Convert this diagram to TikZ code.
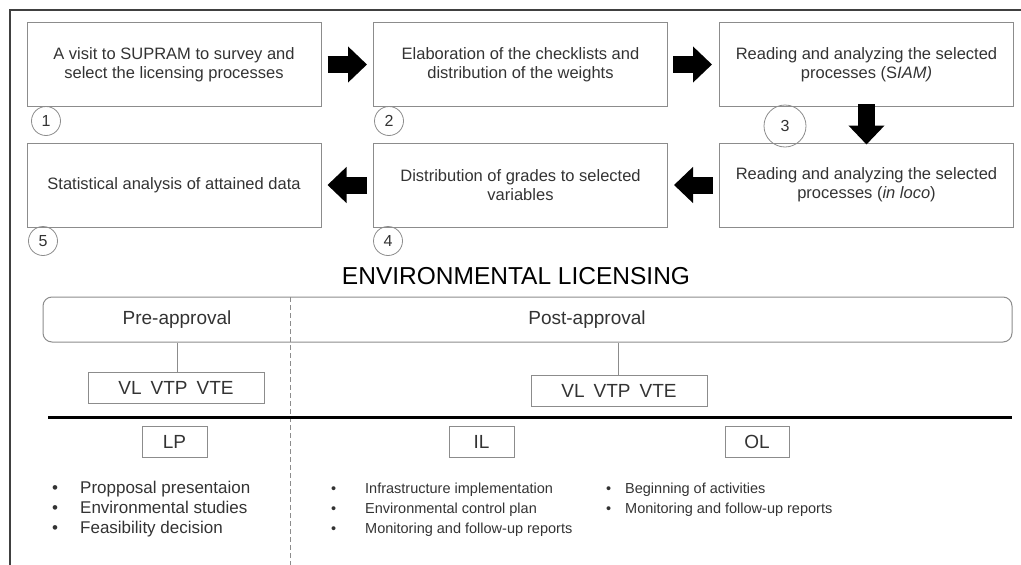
\documentclass[tikz,border=0pt]{standalone}
\usepackage{fontspec}
\setmainfont{Liberation Sans}
\usetikzlibrary{arrows.meta}
\definecolor{boxgray}{HTML}{8C8C8C}
\definecolor{txtgray}{HTML}{333333}
\definecolor{framegray}{HTML}{404040}
\tikzset{
  stepbox/.style={draw=boxgray, line width=1pt, minimum width=294pt, minimum height=84pt,
    inner sep=0pt, align=center, text=txtgray, font=\fontsize{16.5}{19}\selectfont},
  numcircle/.style={circle, draw=boxgray, line width=0.8pt, minimum size=29pt, inner sep=0pt,
    text=txtgray, font=\fontsize{16}{18}\selectfont},
  fatarrow/.style={line width=17pt, -{Triangle[length=19pt,width=35pt]}},
  tagbox/.style={draw=boxgray, line width=1pt, minimum height=31pt, inner sep=0pt,
    text=txtgray, font=\fontsize{19}{22}\selectfont},
  phase/.style={text=txtgray, font=\fontsize{19}{22}\selectfont},
  listline/.style={anchor=base west, inner sep=0pt, text=txtgray},
}
\begin{document}
\begin{tikzpicture}[x=1pt, y=-1pt]
\useasboundingbox (0,0) rectangle (1021,565);
% frame
\draw[framegray, line width=1.5pt] (10,565) -- (10,10) -- (1021,10);

% method steps
\node[stepbox] (b1) at (174,64.5) {A visit to SUPRAM to survey and\\select the licensing processes};
\node[stepbox] (b2) at (520.5,64.5) {Elaboration of the checklists and\\distribution of the weights};
\node[stepbox] (b3) at (866.5,64.5) {Reading and analyzing the selected\\processes (S\textit{IAM)}};
\node[stepbox] (b5) at (174,185) {Statistical analysis of attained data};
\node[stepbox] (b4) at (520.5,185) {Distribution of grades to selected\\variables};
\node[stepbox] (b6) at (866.5,185) {Reading and analyzing the selected\\processes (\textit{in loco})};

\node[numcircle] (c1) at (46,121) {1};
\node[numcircle] (c2) at (389,121) {2};
\node[numcircle, minimum size=42pt] (c3) at (785,126) {3};
\node[numcircle] (c4) at (388,241) {4};
\node[numcircle] (c5) at (43,241) {5};

\draw[fatarrow, shorten <=6pt, shorten >=6pt] (b1) -- (b2);
\draw[fatarrow, shorten <=5pt, shorten >=7pt] (b2) -- (b3);
\draw[fatarrow, shorten <=-3pt, shorten >=-2pt] (b3) -- (b6);
\draw[fatarrow, shorten <=6pt, shorten >=6pt] (b6) -- (b4);
\draw[fatarrow, shorten <=6pt, shorten >=6pt] (b4) -- (b5);

% licensing scheme
\node[text=black, font=\fontsize{24.5}{28}\selectfont] (title) at (516,276) {ENVIRONMENTAL LICENSING};
\node[draw=boxgray, line width=1pt, rounded corners=9pt, minimum width=969pt, minimum height=45pt,
  inner sep=0pt] (phases) at (527.5,319.5) {};
\node[phase] (pre) at (177,320) {Pre-approval};
\node[phase] (post) at (587,320) {Post-approval};
\draw[boxgray, line width=0.8pt, dash pattern=on 5pt off 3pt] (290,297) -- (290,565);

\node[tagbox, minimum width=176pt] (vlpre) at (176,387.5) {VL\hspace{9pt}VTP\hspace{9pt}VTE};
\node[tagbox, minimum width=176pt] (vlpost) at (619,390.5) {VL\hspace{9pt}VTP\hspace{9pt}VTE};
\draw[boxgray, line width=0.8pt] (vlpre.north -| pre) -- (phases.south -| pre);
\draw[boxgray, line width=0.8pt] (vlpost.north -| 618,0) -- (phases.south -| 618,0);

\draw[black, line width=3pt] (48,417) -- (1012,417);

\node[tagbox, minimum width=65pt] (lp) at (174.5,441.5) {LP};
\node[tagbox, minimum width=65pt] (il) at (481.5,441.5) {IL};
\node[tagbox, minimum width=64pt] (ol) at (757,442) {OL};

\foreach \t [count=\i] in {Propposal presentaion, Environmental studies, Feasibility decision}
  \node[listline, font=\fontsize{17}{20}\selectfont] (lp\i) at (52,473+20*\i) {\makebox[28pt][l]{\textbullet}\t};
\foreach \t [count=\i] in {Infrastructure implementation, Environmental control plan, Monitoring and follow-up reports}
  \node[listline, font=\fontsize{14.5}{20}\selectfont] (il\i) at (331,473+20*\i) {\makebox[34pt][l]{\textbullet}\t};
\foreach \t [count=\i] in {Beginning of activities, Monitoring and follow-up reports}
  \node[listline, font=\fontsize{14.5}{20}\selectfont] (ol\i) at (606,473+20*\i) {\makebox[19pt][l]{\textbullet}\t};
\end{tikzpicture}
\end{document}
